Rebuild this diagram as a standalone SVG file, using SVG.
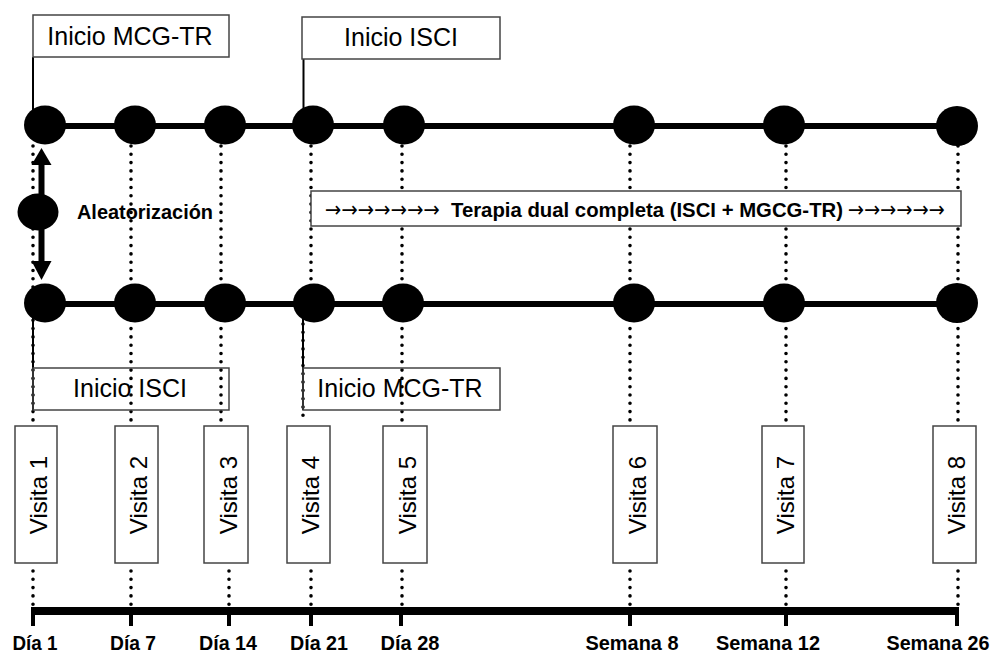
<svg xmlns="http://www.w3.org/2000/svg" width="994" height="655" viewBox="0 0 994 655">
<defs>
<style>
.dot{stroke:#000;stroke-width:3.6;stroke-dasharray:0 8.3;stroke-linecap:round;fill:none}
.lead{stroke:#000;stroke-width:2;fill:none}
.row{stroke:#000;stroke-width:6;fill:none}
.circ{fill:#000}
.box{fill:#fff;stroke:#444;stroke-width:1.5}
.obox{fill:none;stroke:#444;stroke-width:1.5}
.lbl{font-family:"Liberation Sans",Arial,sans-serif;font-size:25px;fill:#000;text-anchor:middle}
.vis{font-family:"Liberation Sans",Arial,sans-serif;font-size:24px;fill:#000;text-anchor:middle}
.day{font-family:"Liberation Sans",Arial,sans-serif;font-size:20px;font-weight:bold;fill:#000;text-anchor:middle}
.bold{font-family:"Liberation Sans",Arial,sans-serif;font-weight:bold;fill:#000}
.arr{font-family:"DejaVu Sans",sans-serif;font-size:22px;fill:#000}
.tick{stroke:#000;stroke-width:4}
</style>
</defs>
<rect width="994" height="655" fill="#fff"/>

<g id="connectors">
  <path class="dot" d="M33 146V420M33 571V606"/>
  <path class="dot" d="M131 146V420M131 571V606"/>
  <path class="dot" d="M221 146V420M229 571V606"/>
  <path class="dot" d="M311 146V284M303 324V420M311 571V606"/>
  <path class="dot" d="M402 146V420M402 571V606"/>
  <path class="dot" d="M630 146V420M630 571V606"/>
  <path class="dot" d="M786 146V420M786 571V606"/>
  <path class="dot" d="M958 146V420M958 571V606"/>
  <line class="row" x1="45" y1="126" x2="957" y2="126"/>
  <line class="row" x1="45" y1="304" x2="957" y2="304"/>
  <path class="lead" d="M33 57V110"/>
  <path class="lead" d="M303.5 59V112"/>
  <path class="lead" d="M33 318V410"/>
  <path class="lead" d="M303 318V410"/>
  <line x1="41.5" y1="163" x2="41.5" y2="262" stroke="#000" stroke-width="6"/>
  <polygon points="41.5,148 51.5,165 31.5,165" fill="#000"/>
  <polygon points="41.5,280 51.5,261 31.5,261" fill="#000"/>
</g>

<g id="timeline">
  <line x1="33" y1="611" x2="958" y2="611" stroke="#000" stroke-width="8"/>
  <path class="tick" d="M33 607V626M131 607V626M229 607V626M311 607V626M401 607V626M630 607V626M786 607V626M957 607V626"/>
</g>

<g id="top-row">
  <ellipse class="circ" cx="45" cy="125" rx="21" ry="19.5"/>
  <ellipse class="circ" cx="135" cy="125" rx="21" ry="19.5"/>
  <ellipse class="circ" cx="225" cy="125" rx="21" ry="19.5"/>
  <ellipse class="circ" cx="313" cy="125" rx="21" ry="19.5"/>
  <ellipse class="circ" cx="404" cy="125" rx="21" ry="19.5"/>
  <ellipse class="circ" cx="634" cy="125" rx="21" ry="19.5"/>
  <ellipse class="circ" cx="784" cy="125" rx="21" ry="19.5"/>
  <ellipse class="circ" cx="957" cy="126" rx="21" ry="20"/>
</g>
<g id="bottom-row">
  <ellipse class="circ" cx="45" cy="303" rx="21" ry="19.5"/>
  <ellipse class="circ" cx="135" cy="303" rx="21" ry="19.5"/>
  <ellipse class="circ" cx="225" cy="303" rx="21" ry="19.5"/>
  <ellipse class="circ" cx="314" cy="303" rx="21" ry="19.5"/>
  <ellipse class="circ" cx="403" cy="303" rx="21" ry="19.5"/>
  <ellipse class="circ" cx="634" cy="303" rx="21" ry="19.5"/>
  <ellipse class="circ" cx="784" cy="303" rx="21" ry="19.5"/>
  <ellipse class="circ" cx="957" cy="303" rx="21" ry="20"/>
</g>

<g id="aleatorizacion">
  <ellipse class="circ" cx="38" cy="212" rx="20.5" ry="18.5"/>
  <text class="bold" x="77" y="219" font-size="21" textLength="136" lengthAdjust="spacingAndGlyphs">Aleatorización</text>
</g>

<g id="label-top-mcg">
  <rect class="box" x="33" y="15" width="196" height="42"/>
  <text class="lbl" x="130" y="45">Inicio MCG-TR</text>
</g>
<g id="label-top-isci">
  <rect class="box" x="302" y="17" width="198" height="42"/>
  <text class="lbl" x="401" y="46">Inicio ISCI</text>
</g>
<g id="label-bottom-isci">
  <rect class="obox" x="33" y="368" width="196" height="42"/>
  <text class="lbl" x="130" y="397">Inicio ISCI</text>
</g>
<g id="label-bottom-mcg">
  <rect class="obox" x="303" y="368" width="197" height="42"/>
  <text class="lbl" x="400" y="397">Inicio MCG-TR</text>
</g>

<g id="terapia-dual">
  <rect class="box" x="311" y="191" width="650" height="35"/>
  <text class="arr" x="325" y="217" textLength="115" lengthAdjust="spacingAndGlyphs">→→→→→→→</text>
  <text class="bold" x="451" y="217" font-size="21" textLength="392" lengthAdjust="spacingAndGlyphs">Terapia dual completa (ISCI + MGCG-TR)</text>
  <text class="arr" x="848" y="217" textLength="97" lengthAdjust="spacingAndGlyphs">→→→→→→</text>
</g>

<g id="visita-1"><rect class="box" x="15" y="426" width="42" height="137"/><text class="vis" transform="translate(46.5,495) rotate(-90)">Visita 1</text></g>
<g id="visita-2"><rect class="box" x="115" y="426" width="43" height="137"/><text class="vis" transform="translate(147,495) rotate(-90)">Visita 2</text></g>
<g id="visita-3"><rect class="box" x="204" y="426" width="44" height="137"/><text class="vis" transform="translate(236.5,495) rotate(-90)">Visita 3</text></g>
<g id="visita-4"><rect class="box" x="287" y="426" width="43" height="137"/><text class="vis" transform="translate(319,495) rotate(-90)">Visita 4</text></g>
<g id="visita-5"><rect class="box" x="383" y="426" width="44" height="137"/><text class="vis" transform="translate(415.5,495) rotate(-90)">Visita 5</text></g>
<g id="visita-6"><rect class="box" x="613" y="426" width="44" height="137"/><text class="vis" transform="translate(645.5,495) rotate(-90)">Visita 6</text></g>
<g id="visita-7"><rect class="box" x="762" y="426" width="42" height="137"/><text class="vis" transform="translate(793.5,495) rotate(-90)">Visita 7</text></g>
<g id="visita-8"><rect class="box" x="933" y="426" width="43" height="137"/><text class="vis" transform="translate(965,495) rotate(-90)">Visita 8</text></g>

<g id="day-labels">
  <text class="day" x="35" y="650" textLength="45" lengthAdjust="spacingAndGlyphs">Día 1</text>
  <text class="day" x="133" y="650" textLength="46" lengthAdjust="spacingAndGlyphs">Día 7</text>
  <text class="day" x="228" y="650" textLength="58" lengthAdjust="spacingAndGlyphs">Día 14</text>
  <text class="day" x="319" y="650" textLength="58" lengthAdjust="spacingAndGlyphs">Día 21</text>
  <text class="day" x="410" y="650" textLength="59" lengthAdjust="spacingAndGlyphs">Día 28</text>
  <text class="day" x="632" y="650" textLength="93" lengthAdjust="spacingAndGlyphs">Semana 8</text>
  <text class="day" x="768" y="650" textLength="104" lengthAdjust="spacingAndGlyphs">Semana 12</text>
  <text class="day" x="938" y="650" textLength="103" lengthAdjust="spacingAndGlyphs">Semana 26</text>
</g>
</svg>
